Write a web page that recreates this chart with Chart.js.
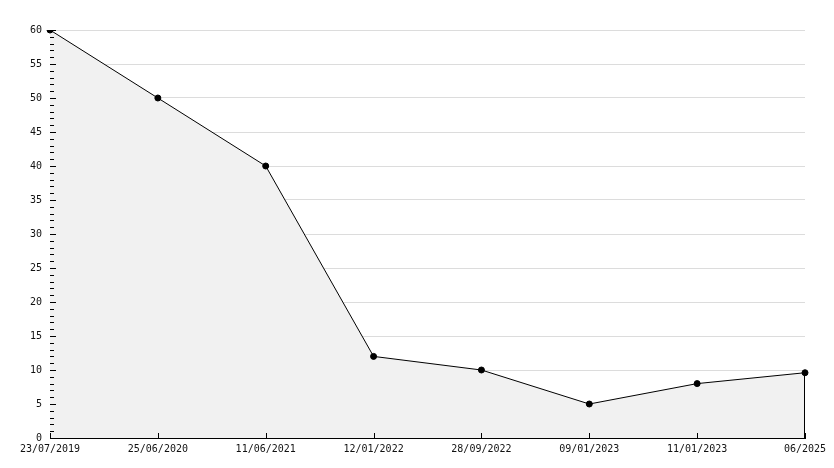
<!DOCTYPE html>
<html>
<head>
<meta charset="utf-8">
<script src="https://cdn.jsdelivr.net/npm/chart.js@4"></script>
<style>
  html, body { margin: 0; padding: 0; background: #fff; }
  #wrap { width: 834px; height: 468px; }
</style>
</head>
<body>
<div id="wrap"><canvas id="chart" width="834" height="468"></canvas></div>
<script>
const dateLabels = ['23/07/2019', '25/06/2020', '11/06/2021', '12/01/2022', '28/09/2022', '09/01/2023', '11/01/2023', '06/2025'];
const values = [60, 50, 40, 12, 10, 5, 8, 9.6];
const yMin = 0, yMax = 60, yStep = 5, yMinorStep = 1;

// tick marks drawn inside the plot, plus the closing edge of the filled area
const innerTicks = {
    id: 'innerTicks',
    afterDatasetsDraw(chart) {
        const ctx = chart.ctx;
        const xs = chart.scales.x, ys = chart.scales.y;
        const area = chart.chartArea;
        ctx.save();
        ctx.strokeStyle = '#000';
        ctx.lineWidth = 1;
        ctx.beginPath();
        for (let v = yMin; v <= yMax; v += yMinorStep) {
            const py = Math.round(ys.getPixelForValue(v)) + 0.5;
            const len = (v % yStep === 0) ? 6 : 4;
            ctx.moveTo(area.left, py);
            ctx.lineTo(area.left + len, py);
        }
        for (let i = 0; i < dateLabels.length; i++) {
            const px = Math.round(xs.getPixelForValue(i)) + 0.5;
            ctx.moveTo(px, area.bottom);
            ctx.lineTo(px, area.bottom - 5);
        }
        const last = values.length - 1;
        const lx = Math.round(xs.getPixelForValue(last)) - 0.5;
        ctx.moveTo(lx, ys.getPixelForValue(values[last]));
        ctx.lineTo(lx, area.bottom);
        ctx.stroke();
        ctx.restore();
    }
};

new Chart(document.getElementById('chart'), {
    type: 'line',
    data: {
        labels: dateLabels,
        datasets: [{
            data: values,
            borderColor: '#000',
            borderWidth: 1,
            backgroundColor: '#f1f1f1',
            fill: 'origin',
            tension: 0,
            pointStyle: 'circle',
            pointRadius: 3,
            pointBackgroundColor: '#000',
            pointBorderColor: '#000',
            pointBorderWidth: 1,
        }]
    },
    options: {
        responsive: false,
        animation: false,
        layout: { padding: { top: 30, right: 29, left: 0, bottom: 0 } },
        plugins: { legend: { display: false }, tooltip: { enabled: false } },
        scales: {
            x: {
                offset: false,
                grid: { display: false, drawTicks: false },
                border: { display: true, color: '#000', width: 1 },
                ticks: {
                    color: '#111',
                    font: { family: 'DejaVu Sans Mono', size: 10 },
                    maxRotation: 0,
                    autoSkip: false,
                    padding: 5
                },
                afterFit(scale) { scale.height = 30; }
            },
            y: {
                min: yMin,
                max: yMax,
                grid: { color: '#dcdcdc', drawTicks: false },
                border: { display: true, color: '#000', width: 1 },
                ticks: {
                    stepSize: yStep,
                    color: '#111',
                    font: { family: 'DejaVu Sans Mono', size: 10 },
                    padding: 8
                },
                afterFit(scale) { scale.width = 50; }
            }
        }
    },
    plugins: [innerTicks]
});
</script>
</body>
</html>
